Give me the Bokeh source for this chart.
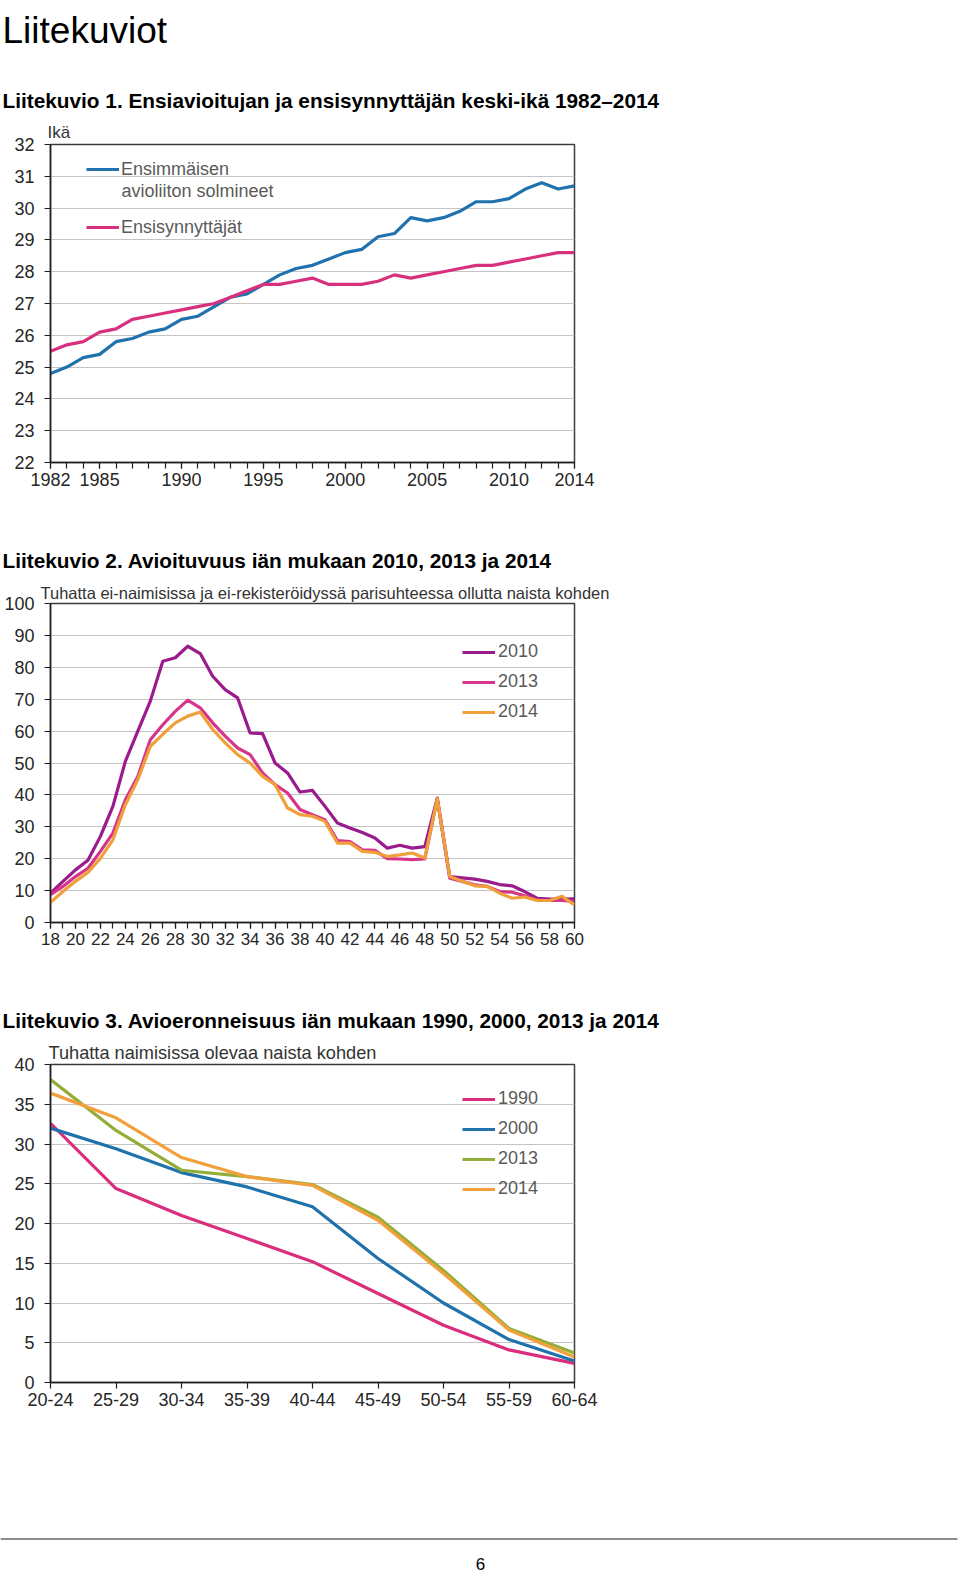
from bokeh.plotting import figure
from bokeh.models import (Label, Legend, LegendItem, FixedTicker, Range1d,
                          BoxAnnotation, Title)
from bokeh.embed import file_html
from bokeh.resources import INLINE

# ---------------- data ----------------
# Chart 1: mean age at first marriage / first birth, 1982-2014
years = list(range(1982, 2015))
year_labels = [1982, 1985, 1990, 1995, 2000, 2005, 2010, 2014]
age_ticks_1 = [22, 23, 24, 25, 26, 27, 28, 29, 30, 31, 32]
first_marriage = [24.8, 25.0, 25.3, 25.4, 25.8, 25.9, 26.1, 26.2, 26.5, 26.6,
                  26.9, 27.2, 27.3, 27.6, 27.9, 28.1, 28.2, 28.4, 28.6, 28.7,
                  29.1, 29.2, 29.7, 29.6, 29.7, 29.9, 30.2, 30.2, 30.3, 30.6,
                  30.8, 30.6, 30.7]
first_birth = [25.5, 25.7, 25.8, 26.1, 26.2, 26.5, 26.6, 26.7, 26.8, 26.9,
               27.0, 27.2, 27.4, 27.6, 27.6, 27.7, 27.8, 27.6, 27.6, 27.6,
               27.7, 27.9, 27.8, 27.9, 28.0, 28.1, 28.2, 28.2, 28.3, 28.4,
               28.5, 28.6, 28.6]

# Chart 2: marriage rate by age, per 1000 unmarried women
ages = list(range(18, 61))
age_labels = list(range(18, 61, 2))
rate_ticks_2 = [0, 10, 20, 30, 40, 50, 60, 70, 80, 90, 100]
marr_2010 = [9.2, 12.9, 16.5, 19.5, 27.0, 36.4, 50.5, 60.0, 69.4, 81.9,
             83.0, 86.6, 84.3, 77.2, 73.0, 70.4, 59.4, 59.2, 50.0, 46.9,
             40.9, 41.4, 36.4, 31.2, 29.6, 28.2, 26.5, 23.3, 24.2, 23.3,
             23.8, 39.0, 14.4, 14.0, 13.6, 12.9, 11.9, 11.5, 9.7, 7.6,
             7.3, 7.3, 7.4]
marr_2013 = [8.7, 11.3, 14.4, 17.0, 22.3, 28.0, 38.5, 45.8, 57.3, 62.0,
             66.2, 69.7, 67.3, 62.6, 58.4, 54.7, 52.6, 46.9, 43.2, 40.6,
             35.4, 33.8, 32.2, 25.7, 25.4, 22.8, 22.6, 20.0, 19.9, 19.7,
             19.9, 38.8, 13.9, 12.9, 11.8, 11.3, 9.7, 9.5, 8.4, 7.1,
             6.9, 6.9, 6.6]
marr_2014 = [6.3, 9.7, 12.9, 15.7, 20.1, 25.9, 36.9, 44.8, 55.2, 59.0,
             62.6, 64.7, 66.0, 60.5, 56.3, 52.6, 50.0, 45.8, 43.2, 35.9,
             33.8, 33.3, 31.7, 24.9, 24.9, 22.3, 22.0, 20.7, 21.2, 21.8,
             20.2, 38.8, 14.4, 12.9, 11.5, 11.3, 9.2, 7.6, 8.0, 6.9,
             6.9, 8.2, 5.5]

# Chart 3: divorce rate by age group, per 1000 married women
age_groups = ["20-24", "25-29", "30-34", "35-39", "40-44", "45-49",
              "50-54", "55-59", "60-64"]
rate_ticks_3 = [0, 5, 10, 15, 20, 25, 30, 35, 40]
div_1990 = [32.6, 24.4, 21.0, 18.1, 15.2, 11.2, 7.2, 4.1, 2.4]
div_2000 = [32.0, 29.4, 26.4, 24.6, 22.1, 15.6, 10.0, 5.4, 2.7]
div_2013 = [38.1, 31.7, 26.7, 25.9, 24.9, 20.8, 14.1, 6.8, 3.7]
div_2014 = [36.4, 33.3, 28.3, 25.9, 24.8, 20.4, 13.7, 6.6, 3.2]

# ---------------- styling ----------------
FONT = "Liberation Sans"
W = 960
LEFT = 50
RIGHT = 386
LW = 3.2
TITLE_SIZE = "20.8px"


def text_fig(h):
    p = figure(width=W, height=h, x_range=Range1d(0, 1), y_range=Range1d(0, 1),
               x_axis_type=None, y_axis_type=None, output_backend="svg",
               toolbar_location=None, tools="", title=None,
               min_border_left=0, min_border_right=0,
               min_border_top=0, min_border_bottom=0)
    p.outline_line_color = None
    p.background_fill_color = "white"
    p.border_fill_color = "white"
    return p


def make_fig(top, frame_h, bottom, xr, yr):
    p = figure(width=W, height=top + frame_h + bottom,
               min_border_left=LEFT, min_border_right=RIGHT,
               min_border_top=top, min_border_bottom=bottom,
               x_range=xr, y_range=yr, output_backend="svg",
               toolbar_location=None, tools="", title=None)
    p.background_fill_color = "white"
    p.border_fill_color = "white"
    p.outline_line_color = "#3c3c3c"
    p.outline_line_width = 1.5
    p.xgrid.visible = False
    p.ygrid.grid_line_color = "#c4c4c4"
    p.ygrid.grid_line_width = 1
    for ax in (p.xaxis[0], p.yaxis[0]):
        ax.axis_line_color = "#1e1e1e"
        ax.axis_line_width = 1.5
        ax.major_tick_line_color = "#1e1e1e"
        ax.minor_tick_line_color = "#1e1e1e"
        ax.major_tick_line_width = 1.2
        ax.minor_tick_line_width = 1.2
        ax.major_tick_in = 0
        ax.major_tick_out = 6
        ax.minor_tick_in = 0
        ax.minor_tick_out = 0
        ax.major_label_text_font = FONT
        ax.major_label_text_font_size = "18px"
        ax.major_label_text_color = "#262626"
    p.yaxis[0].major_label_standoff = 10
    p.xaxis[0].major_label_standoff = 4
    return p


def add_text(p, x, y, text, size, bold=False, color="black", align="left"):
    p.add_layout(Label(x=x, y=y, x_units="screen", y_units="screen",
                       text=text, text_font=FONT, text_font_size=size,
                       text_font_style="bold" if bold else "normal",
                       text_color=color, text_align=align,
                       text_baseline="alphabetic"))


def add_subtitle(p, text, size, offset, standoff):
    p.add_layout(Title(text=text, align="left", offset=offset,
                       standoff=standoff, text_font=FONT,
                       text_font_size=size, text_font_style="normal",
                       text_color="#333333"), "above")


def add_legend(p, items, x, y, spacing, standoff):
    leg = Legend(items=items, location=(x, y), orientation="vertical",
                 glyph_width=33, glyph_height=24, label_height=24,
                 label_standoff=standoff, spacing=spacing, padding=0,
                 margin=0, border_line_color=None, background_fill_alpha=0,
                 label_text_font=FONT, label_text_font_size="18px",
                 label_text_color="#5a5a5a")
    p.add_layout(leg)


# ---------------- header ----------------
h0 = text_fig(116)
add_text(h0, 2, 86.5, "Liitekuviot", "37px")
add_text(h0, 2, 16,
         "Liitekuvio 1. Ensiavioitujan ja ensisynnyttäjän keski-ikä 1982–2014",
         TITLE_SIZE, bold=True)

# ---------------- chart 1 ----------------
p1 = make_fig(28, 318, 68, Range1d(1982, 2014), Range1d(22, 32))
p1.xaxis[0].ticker = FixedTicker(ticks=year_labels, minor_ticks=years)
p1.xaxis[0].minor_tick_out = 6
p1.yaxis[0].ticker = FixedTicker(ticks=age_ticks_1)
r_fm = p1.line(years, first_marriage, line_color="#1f72ad", line_width=LW,
               line_join="round")
r_fb = p1.line(years, first_birth, line_color="#d8307c", line_width=LW,
               line_join="round")
add_legend(p1, [LegendItem(label="Ensimmäisen", renderers=[r_fm]),
                LegendItem(label="Ensisynnyttäjät", renderers=[r_fb])],
           36, 222.7, 34, 2)
add_text(p1, 71, 272, "avioliiton solmineet", "18px", color="#5a5a5a")
add_subtitle(p1, "Ikä", "17px", -3, 6)

# ---------------- chart 2 ----------------
h2 = text_fig(48)
add_text(h2, 2, 18,
         "Liitekuvio 2. Avioituvuus iän mukaan 2010, 2013 ja 2014",
         TITLE_SIZE, bold=True)

p2 = make_fig(25, 319, 68, Range1d(18, 60), Range1d(0, 100))
p2.xaxis[0].ticker = FixedTicker(ticks=age_labels, minor_ticks=ages)
p2.xaxis[0].minor_tick_out = 6
p2.xaxis[0].major_label_text_font_size = "17px"
p2.yaxis[0].ticker = FixedTicker(ticks=rate_ticks_2)
r10 = p2.line(ages, marr_2010, line_color="#9a1b8c", line_width=LW,
              line_join="round")
r13 = p2.line(ages, marr_2013, line_color="#d6358b", line_width=LW,
              line_join="round")
r14 = p2.line(ages, marr_2014, line_color="#f0a03a", line_width=LW,
              line_join="round")
add_legend(p2, [LegendItem(label="2010", renderers=[r10]),
                LegendItem(label="2013", renderers=[r13]),
                LegendItem(label="2014", renderers=[r14])],
           412, 198.3, 6, 3)
add_subtitle(p2,
             "Tuhatta ei-naimisissa ja ei-rekisteröidyssä parisuhteessa ollutta naista kohden",
             "16.5px", -10, 4)

# ---------------- chart 3 ----------------
h3 = text_fig(48)
add_text(h3, 2, 18,
         "Liitekuvio 3. Avioeronneisuus iän mukaan 1990, 2000, 2013 ja 2014",
         TITLE_SIZE, bold=True)

gx = list(range(len(age_groups)))
p3 = make_fig(26, 318, 40, Range1d(0, len(age_groups) - 1), Range1d(0, 40))
p3.xaxis[0].ticker = FixedTicker(ticks=gx)
p3.xaxis[0].major_label_overrides = {i: g for i, g in zip(gx, age_groups)}
p3.yaxis[0].ticker = FixedTicker(ticks=rate_ticks_3)
d90 = p3.line(gx, div_1990, line_color="#da2d7e", line_width=LW,
              line_join="round")
d00 = p3.line(gx, div_2000, line_color="#1f72ab", line_width=LW,
              line_join="round")
d13 = p3.line(gx, div_2013, line_color="#93ae36", line_width=LW,
              line_join="round")
d14 = p3.line(gx, div_2014, line_color="#f2a03c", line_width=LW,
              line_join="round")
add_legend(p3, [LegendItem(label="1990", renderers=[d90]),
                LegendItem(label="2000", renderers=[d00]),
                LegendItem(label="2013", renderers=[d13]),
                LegendItem(label="2014", renderers=[d14])],
           412, 181.5, 6, 3)
add_subtitle(p3, "Tuhatta naimisissa olevaa naista kohden", "18.2px", -2, 3)

# ---------------- footer ----------------
f = text_fig(150)
f.add_layout(BoxAnnotation(left=0, right=957, top=34.5, bottom=32.5,
                           left_units="screen", right_units="screen",
                           top_units="screen", bottom_units="screen",
                           fill_color="#8c8c8c", fill_alpha=1,
                           line_color=None))
add_text(f, 480, 9, "6", "17px", align="center")

roots = [h0, p1, h2, p2, h3, p3, f]
open("out.html", "w").write(file_html(roots, INLINE))
